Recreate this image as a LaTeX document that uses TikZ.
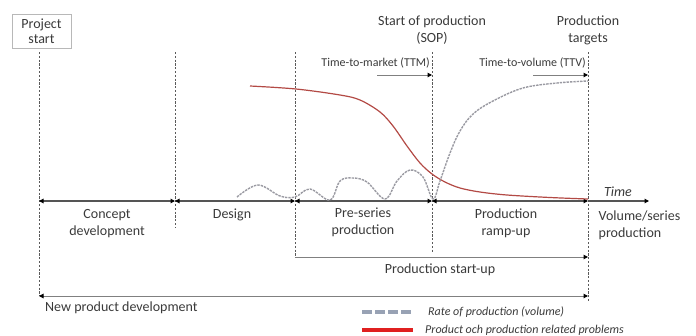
\documentclass[tikz,border=0pt]{standalone}
\usepackage{fontspec}
\setmainfont{Carlito}
\usetikzlibrary{arrows.meta}
\definecolor{txt}{HTML}{3A3A3A}
\definecolor{guide}{HTML}{5A5A5A}
\definecolor{axisc}{HTML}{555555}
\definecolor{spanc}{HTML}{808080}
\definecolor{ratec}{HTML}{9A9AA2}
\definecolor{ratelg}{HTML}{98A2B4}
\definecolor{probc}{HTML}{B34A45}
\definecolor{problg}{HTML}{E02020}
\definecolor{boxc}{HTML}{B8B8B8}
\begin{document}
\begin{tikzpicture}[x=1pt,y=-1pt,
  font=\fontsize{14}{17}\selectfont, text=txt,
  tip/.tip={Triangle[length=4.5pt,width=4.5pt,color=black]},
  guideline/.style={draw=guide,line width=1pt,dash pattern=on 2.2pt off 1.6pt},
  axisline/.style={draw=axisc,line width=1.1pt},
  spanline/.style={draw=spanc,line width=1pt},
  rate/.style={draw=ratec,line width=1.4pt,dash pattern=on 2.4pt off 1pt},
  problems/.style={draw=probc,line width=1.2pt},
  lbl/.style={align=center,inner sep=0pt},
  small/.style={font=\fontsize{12}{14}\selectfont,inner sep=0pt},
  legendtxt/.style={font=\fontsize{12}{14}\selectfont\itshape,inner sep=0pt,anchor=west}]
\useasboundingbox (0,0) rectangle (696,335);

% project start marker
\node[draw=boxc,line width=0.8pt,align=center,minimum width=59pt,minimum height=34pt,inner sep=1pt]
  (start) at (41.5,31) {Project\\[-2pt]start};

% milestone positions: top, axis, bottom
\coordinate (m0t) at (39,52);  \coordinate (m0a) at (39,201);  \coordinate (m0b) at (39,296);
\coordinate (m1t) at (175,52); \coordinate (m1a) at (175,201); \coordinate (m1b) at (175,228);
\coordinate (m2t) at (295,52); \coordinate (m2a) at (295,201); \coordinate (m2b) at (295,257);
\coordinate (m3t) at (432,52); \coordinate (m3a) at (432,201); \coordinate (m3b) at (432,253);
\coordinate (m4t) at (588,52); \coordinate (m4a) at (588,201); \coordinate (m4b) at (588,301);
\coordinate (m4s) at (588,257); \coordinate (m4n) at (588,296);
\coordinate (tend) at (649,201);

% dashed milestone lines
\draw[guideline] (m0t) -- (m0b);
\draw[guideline] (m1t) -- (m1b);
\draw[guideline] (m2t) -- (m2b);
\draw[guideline] (m3t) -- (m3b);
\draw[guideline] (m4t) -- (m4b);

% time axis with phase arrows
\draw[axisline,{tip}-{tip}] (m0a) -- (m1a);
\draw[axisline,{tip}-{tip}] (m1a) -- (m2a);
\draw[axisline,{tip}-{tip}] (m2a) -- (m3a);
\draw[axisline,{tip}-{tip}] (m3a) -- (m4a);
\draw[axisline,-{tip}] (m4a) -- (tend);
\node[font=\fontsize{14}{17}\selectfont\itshape,inner sep=0pt] (time) at (618,192) {Time};

% spans below the axis
\draw[spanline,-{tip}] (m2b) -- (m4s);
\draw[spanline,{tip}-{tip}] (m0b) -- (m4n);

% phase labels
\node[lbl] (concept) at (107,223.5) {Concept\\development};
\node[lbl] (design) at (232,215) {Design};
\node[lbl] (preseries) at (363,222.5) {Pre-series\\production};
\node[lbl] (rampup) at (506,223.5) {Production\\ramp-up};
\node[lbl,align=left,anchor=west] (volume) at (598.5,225.5) {Volume/series\\production};
\node[lbl] (startup) at (440,270) {Production start-up};
\node[lbl,anchor=west] (npd) at (45,308) {New product development};

% milestone labels
\node[lbl] (sop) at (432,30) {Start of production\\(SOP)};
\node[lbl] (targets) at (588,30) {Production\\targets};

% time-to-market / time-to-volume
\node[small,anchor=east] (ttm) at (430,63) {Time-to-market (TTM)};
\node[small,anchor=east] (ttv) at (586,63) {Time-to-volume (TTV)};
\coordinate (ttmfrom) at (377,75); \coordinate (ttmto) at (432,75);
\coordinate (ttvfrom) at (533,75); \coordinate (ttvto) at (588,75);
\draw[spanline,-{tip}] (ttmfrom) -- (ttmto);
\draw[spanline,-{tip}] (ttvfrom) -- (ttvto);

% product and production related problems
\draw[problems] plot[smooth,tension=0.55] coordinates {
  (250,86) (296,89) (340,95) (360,100) (380,112) (393,126) (407,146)
  (420,163) (432,174) (445,182) (460,188) (480,192) (507,195) (550,197.5) (588,199)};

% rate of production
\draw[rate] plot[smooth,tension=0.6] coordinates {
  (237,197) (258,185) (280,196) (295,197) (310,189) (330,200) (340,181)
  (353,178) (367,182) (385,199) (397,181) (410,170) (423,177) (433,199)
  (440,181) (450,153) (460,131) (473,114) (493,101) (523,88) (557,83) (588,81)};

% legend
\coordinate (lg1a) at (362,312); \coordinate (lg1b) at (413,312);
\coordinate (lg2a) at (362,330); \coordinate (lg2b) at (413,330);
\draw[draw=ratelg,line width=3.5pt,dash pattern=on 10pt off 3pt] (lg1a) -- (lg1b);
\draw[draw=problg,line width=3.5pt] (lg2a) -- (lg2b);
\node[legendtxt] (lgrate) at (428,312) {Rate of production (volume)};
\node[legendtxt] (lgprob) at (425,330) {Product och production related problems};
\end{tikzpicture}
\end{document}
